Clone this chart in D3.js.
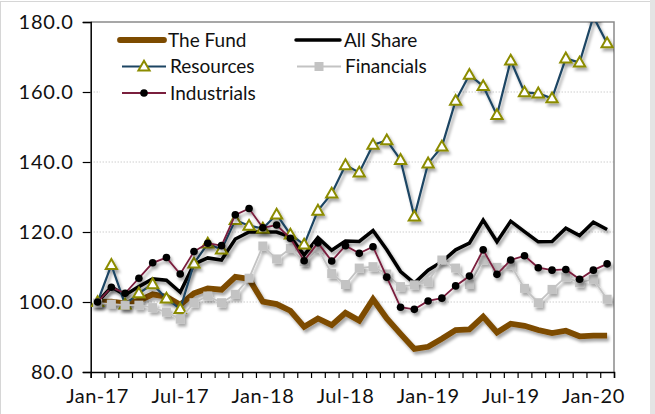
<!DOCTYPE html>
<html>
<head>
<meta charset="utf-8">
<script src="https://cdn.jsdelivr.net/npm/d3@7"></script>
<style>
  body { margin: 0; background: #fff; }
  svg text { font-family: Lato, "Open Sans", sans-serif; fill: #111; }
</style>
</head>
<body>
<svg id="chart" width="655" height="414"></svg>
<script>
// monthly categories, Jan-17 .. Feb-20
const months = ["Jan-17","Feb-17","Mar-17","Apr-17","May-17","Jun-17","Jul-17","Aug-17","Sep-17","Oct-17","Nov-17","Dec-17",
                "Jan-18","Feb-18","Mar-18","Apr-18","May-18","Jun-18","Jul-18","Aug-18","Sep-18","Oct-18","Nov-18","Dec-18",
                "Jan-19","Feb-19","Mar-19","Apr-19","May-19","Jun-19","Jul-19","Aug-19","Sep-19","Oct-19","Nov-19","Dec-19",
                "Jan-20","Feb-20"];
const monthLabels = ["Jan-17","Jul-17","Jan-18","Jul-18","Jan-19","Jul-19","Jan-20"];
const yTicks = [80, 100, 120, 140, 160, 180];

const fund = [100, 100.1, 99.6, 100.4, 102.2, 101.5, 99.2, 102.5, 103.9, 103.5, 107.2, 106.6,
              100.1, 99.4, 97.5, 92.9, 95.3, 93.4, 96.9, 94.7, 100.8, 95.3, 90.9, 86.6,
              87.2, 89.5, 92, 92.2, 95.8, 91.3, 93.8, 93.2, 92, 91.1, 91.8, 90.2, 90.4, 90.4];
const allShare = [100, 104.3, 102, 104.4, 106.6, 106.2, 102.8, 110.8, 112.6, 112, 118, 120,
                  120, 120, 118.6, 113.4, 118.4, 114.8, 117.4, 117.3, 120.4, 114.9, 108.7, 105.4,
                  109.1, 111.5, 114.9, 116.8, 123.4, 117.2, 123.1, 120.1, 117.2, 117.3, 121.1, 119, 122.8, 120.7];
const resources = [100, 110.6, 99.3, 102.5, 105.1, 101, 98, 111, 116.7, 115, 123.4, 121.8,
                   121, 125, 119.3, 116.4, 126.1, 131, 139.1, 137, 144.9, 146.2, 140.6, 124.4,
                   139.6, 144.4, 157.5, 164.9, 161.7, 153.4, 169, 159.9, 159.6, 158.2, 169.6, 168.4, 181.5, 173.9];
const financials = [99.7, 99.4, 99.1, 99.1, 98.4, 97.1, 95.1, 99.8, 101.7, 99.8, 102.2, 106.8,
                    116, 112.3, 115.3, 111.5, 115.3, 108.1, 105, 109.7, 110.1, 108, 104.4, 104.9,
                    105.8, 112, 109.7, 105, 112, 109.9, 110.6, 103.9, 99.8, 103.6, 107.1, 105.5, 106.5, 100.8];
const industrials = [100, 104.2, 102.5, 106.8, 111.2, 112.7, 108, 114.4, 116.8, 116.1, 124.9, 126.7,
                     121.2, 122, 118.2, 111.8, 116.9, 111.7, 116.1, 113.9, 115.8, 107.1, 98.5, 97.9,
                     100.3, 101.1, 104.6, 107.4, 114.9, 107.9, 112, 113.2, 109.8, 109.1, 109.3, 106.5, 109.1, 110.9];

const series = [
    { name: "The Fund",    values: fund,        color: "#7d4b00", width: 5.8, marker: null },
    { name: "All Share",   values: allShare,    color: "#000000", width: 3.5, marker: null },
    { name: "Resources",   values: resources,   color: "#1c4563", width: 2.2, marker: "triangle" },
    { name: "Financials",  values: financials,  color: "#c3c3c3", width: 1.8, marker: "square" },
    { name: "Industrials", values: industrials, color: "#7a1f3d", width: 1.8, marker: "circle" }
];

const svg = d3.select("#chart");
const plotLeft = 90.7, plotRight = 614, plotTop = 22, plotBottom = 372;

// outer frame
svg.append("rect").attr("x", 0.5).attr("y", 1.5).attr("width", 650).attr("height", 420)
    .attr("fill", "none").attr("stroke", "#d6d6d6");
svg.append("rect").attr("x", 650).attr("y", 0).attr("width", 5).attr("height", 414).attr("fill", "#e4e4e4");

const defs = svg.append("defs");
defs.append("clipPath").attr("id", "plotClip")
    .append("rect").attr("x", plotLeft).attr("y", plotTop)
    .attr("width", plotRight - plotLeft).attr("height", plotBottom - plotTop + 6);
defs.append("filter").attr("id", "shadow").attr("x", "-10%").attr("y", "-10%").attr("width", "130%").attr("height", "130%")
    .append("feDropShadow").attr("dx", 2).attr("dy", 3).attr("stdDeviation", 1.8)
    .attr("flood-color", "#000").attr("flood-opacity", 0.35);

const x = d3.scaleBand().domain(months).range([plotLeft, plotRight]).padding(0);
const xEdge = d3.scaleLinear().domain([0, months.length]).range([plotLeft, plotRight]);
const y = d3.scaleLinear().domain([80, 180]).range([plotBottom, plotTop]);
const cx = d => x(d) + x.bandwidth() / 2;

// gridlines
svg.append("g").selectAll("line")
    .data(yTicks.filter(v => v > 80 && v < 180))
    .join("line")
    .attr("x1", plotLeft).attr("x2", plotRight)
    .attr("y1", d => y(d)).attr("y2", d => y(d))
    .attr("stroke", "#b8b8b8").attr("stroke-width", 1).attr("stroke-dasharray", "1,2");

// plot border top/right
svg.append("path")
    .attr("d", `M${plotLeft},${plotTop}H${plotRight}V${plotBottom}`)
    .attr("fill", "none").attr("stroke", "#8a8a8a").attr("stroke-width", 1.5);

// legend background (hides gridline behind it)
svg.append("rect").attr("x", 100).attr("y", 25).attr("width", 352).attr("height", 84).attr("fill", "#fff");

// axes
const yAxis = svg.append("g")
    .attr("transform", `translate(${plotLeft},0)`)
    .call(d3.axisLeft(y).tickValues(yTicks).tickFormat(d3.format(".1f")).tickSize(8).tickPadding(9));
yAxis.select(".domain").attr("stroke", "#000").attr("stroke-width", 1.5);
yAxis.selectAll(".tick line").attr("stroke", "#000").attr("stroke-width", 1.2);
yAxis.selectAll("text").style("font-size", "20px").attr("letter-spacing", "0.8px").attr("fill", "#111");

const xTicks = svg.append("g")
    .attr("transform", `translate(0,${plotBottom})`)
    .call(d3.axisBottom(xEdge).tickValues(d3.range(0, months.length + 1)).tickFormat("").tickSize(6));
xTicks.select(".domain").attr("stroke", "#000").attr("stroke-width", 1.5);
xTicks.selectAll(".tick line").attr("stroke", "#000").attr("stroke-width", 1.2);

const xLabels = svg.append("g")
    .attr("transform", `translate(0,${plotBottom})`)
    .call(d3.axisBottom(x).tickValues(monthLabels).tickSize(0).tickPadding(17));
xLabels.select(".domain").remove();
xLabels.selectAll("text").style("font-size", "20px").attr("letter-spacing", "0.5px").attr("fill", "#111");

// series
const line = d3.line().x((d, i) => cx(months[i])).y(d => y(d));
const plot = svg.append("g").attr("clip-path", "url(#plotClip)");

function drawMarker(g, type, px, py) {
    if (type === "triangle") {
        g.append("path")
            .attr("d", `M${px},${py - 5.8}L${px + 5.6},${py + 4}L${px - 5.6},${py + 4}Z`)
            .attr("fill", "#fff").attr("stroke", "#8c8c00").attr("stroke-width", 2);
    } else if (type === "square") {
        g.append("rect").attr("x", px - 4.5).attr("y", py - 4.5).attr("width", 9).attr("height", 9)
            .attr("fill", "#c3c3c3");
    } else if (type === "circle") {
        g.append("circle").attr("cx", px).attr("cy", py).attr("r", 3.8).attr("fill", "#000");
    }
}

series.forEach(s => {
    const g = plot.append("g").attr("filter", "url(#shadow)");
    g.append("path")
        .datum(s.values)
        .attr("d", line)
        .attr("fill", "none")
        .attr("stroke", s.color)
        .attr("stroke-width", s.width)
        .attr("stroke-linejoin", "miter")
        .attr("stroke-linecap", "butt");
    if (s.marker) {
        s.values.forEach((v, i) => drawMarker(g, s.marker, cx(months[i]), y(v)));
    }
});

// legend
const legendPos = [
    { x: 120, y: 40 }, { x: 296, y: 40 },
    { x: 122, y: 66.5 }, { x: 297, y: 66.5 },
    { x: 122, y: 93 }
];
const legend = svg.append("g");
series.forEach((s, i) => {
    const p = legendPos[i];
    const g = legend.append("g");
    g.append("line")
        .attr("x1", p.x).attr("x2", p.x + 44)
        .attr("y1", p.y).attr("y2", p.y)
        .attr("stroke", s.color)
        .attr("stroke-width", s.width)
        .attr("stroke-linecap", s.marker ? "butt" : "round");
    if (s.marker) drawMarker(g, s.marker, p.x + 22, p.y);
    g.append("text")
        .attr("x", p.x + 48).attr("y", p.y)
        .attr("dy", "0.35em")
        .style("font-size", "19px")
        .text(s.name);
});
</script>
</body>
</html>
